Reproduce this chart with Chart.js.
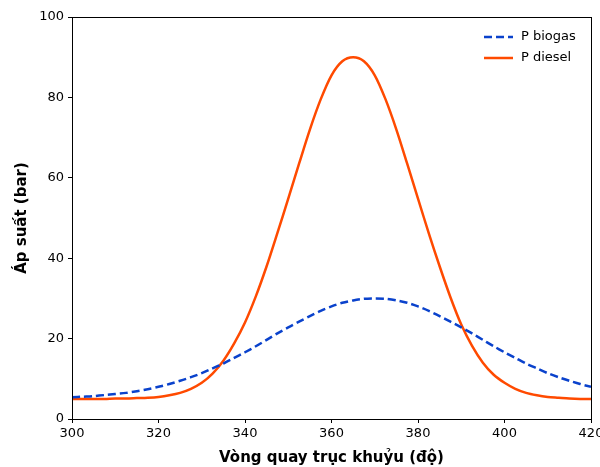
<!DOCTYPE html>
<html>
<head>
<meta charset="utf-8">
<script src="https://cdn.jsdelivr.net/npm/chart.js@4"></script>
<style>
   html, body { margin: 0; padding: 0; background: #fff; }
   #wrap { width: 600px; height: 467px; }
</style>
</head>
<body>
<div id="wrap"><canvas id="myChart" width="600" height="467"></canvas></div>
<script>
const ctx = document.getElementById("myChart").getContext("2d");

// crank angle, degrees (2.5 deg step)
let angles = [300, 302.5, 305, 307.5, 310, 312.5, 315, 317.5, 320, 322.5, 325, 327.5,
   330, 332.5, 335, 337.5, 340, 342.5, 345, 347.5, 350, 352.5, 355, 357.5,
   360, 362.5, 365, 367.5, 370, 372.5, 375, 377.5, 380, 382.5, 385, 387.5,
   390, 392.5, 395, 397.5, 400, 402.5, 405, 407.5, 410, 412.5, 415, 417.5, 420];

// cylinder pressure, bar
let pBiogas = [5.4, 5.55, 5.7, 5.95, 6.2, 6.5, 6.9, 7.4, 8.0, 8.7, 9.5, 10.4,
   11.4, 12.6, 13.8, 15.2, 16.6, 18.1, 19.7, 21.3, 22.8, 24.2, 25.6, 26.9,
   28.0, 28.9, 29.5, 29.9, 30.0, 29.9, 29.5, 28.9, 28.0, 26.9, 25.6, 24.2,
   22.8, 21.3, 19.7, 18.1, 16.6, 15.2, 13.8, 12.6, 11.4, 10.4, 9.5, 8.7, 8.0];
let pDiesel = [5.0, 5.0, 5.0, 5.0, 5.1, 5.1, 5.2, 5.3, 5.5, 5.9, 6.5, 7.5,
   9.0, 11.3, 14.5, 18.8, 24.0, 30.5, 38.0, 46.3, 54.8, 63.5, 72.0, 79.5,
   85.5, 89.0, 90.0, 89.0, 85.5, 79.5, 72.0, 63.5, 54.8, 46.2, 38.0, 30.3,
   23.5, 18.2, 14.0, 11.0, 9.0, 7.5, 6.5, 5.9, 5.5, 5.3, 5.1, 5.0, 5.0];

let xTicks = [300, 320, 340, 360, 380, 400, 420];
let yTicks = [0, 20, 40, 60, 80, 100];

const toPoints = (ys) => angles.map((a, i) => ({ x: a, y: ys[i] }));

const font = "'DejaVu Sans', sans-serif";

// frame on all four sides + legend in the top right corner
const framePlugin = {
   id: 'frame',
   afterDraw(chart) {
      const { ctx, chartArea: a } = chart;
      ctx.save();
      ctx.strokeStyle = '#000';
      ctx.lineWidth = 1;
      ctx.strokeRect(a.left + 0.5, a.top + 0.5, a.right - a.left, a.bottom - a.top);

      let y = 37;
      ctx.font = "13px " + font;
      ctx.textBaseline = 'middle';
      chart.data.datasets.forEach((ds) => {
         ctx.beginPath();
         ctx.strokeStyle = ds.borderColor;
         ctx.lineWidth = ds.borderWidth;
         ctx.setLineDash(ds.borderDash || []);
         ctx.moveTo(484, y);
         ctx.lineTo(513, y);
         ctx.stroke();
         ctx.setLineDash([]);
         ctx.fillStyle = '#000';
         ctx.fillText(ds.label, 521, y);
         y += 21;
      });
      ctx.restore();
   }
};

const data = {
   datasets: [
      {
         label: "P biogas",
         data: toPoints(pBiogas),
         borderColor: "#0a42cc",
         borderWidth: 2.5,
         borderDash: [8, 4],
         pointRadius: 0,
         tension: 0.3,
         fill: false,
      },
      {
         label: "P diesel",
         data: toPoints(pDiesel),
         borderColor: "#ff4a00",
         borderWidth: 2.5,
         pointRadius: 0,
         tension: 0.3,
         fill: false,
      }
   ]
}

const config = {
   type: 'line',
   data: data,
   plugins: [framePlugin],
   options: {
      responsive: false,
      animation: false,
      layout: {
         padding: { left: 0, right: 9, top: 17, bottom: 0 }
      },
      plugins: {
         legend: { display: false },
         tooltip: { enabled: false }
      },
      scales: {
         x: {
            type: 'linear',
            min: 300,
            max: 420,
            afterBuildTicks: (s) => { s.ticks = xTicks.map(v => ({ value: v })); },
            afterFit: (s) => { s.height = 48; s.paddingLeft = 0; s.paddingRight = 0; },
            grid: {
               display: true,
               drawOnChartArea: false,
               tickLength: 4,
               color: '#000'
            },
            border: { display: true, color: '#000' },
            ticks: {
               color: '#000',
               padding: 3,
               maxRotation: 0,
               font: { family: font, size: 13 }
            },
            title: {
               display: true,
               text: 'Vòng quay trục khuỷu (độ)',
               color: '#000',
               padding: { top: 2, bottom: 0 },
               font: { family: font, size: 15, weight: 'bold' }
            }
         },
         y: {
            min: 0,
            max: 100,
            afterBuildTicks: (s) => { s.ticks = yTicks.map(v => ({ value: v })); },
            afterFit: (s) => { s.width = 72; s.paddingTop = 0; s.paddingBottom = 0; },
            grid: {
               display: true,
               drawOnChartArea: false,
               tickLength: 4,
               color: '#000'
            },
            border: { display: true, color: '#000' },
            ticks: {
               color: '#000',
               padding: 4,
               font: { family: font, size: 13 }
            },
            title: {
               display: true,
               text: 'Áp suất (bar)',
               color: '#000',
               padding: { top: 13, bottom: 0 },
               font: { family: font, size: 15, weight: 'bold' }
            }
         }
      }
   }
}

const myChart = new Chart(ctx, config);
</script>
</body>
</html>
